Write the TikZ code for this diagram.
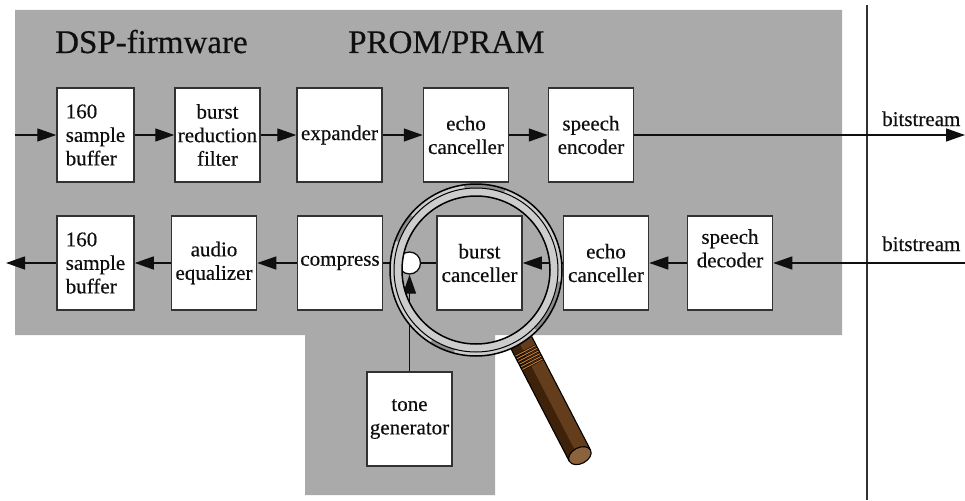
\documentclass[tikz,border=0pt]{standalone}
\usepackage{fontspec}
\setmainfont{Liberation Serif}[RawFeature={embolden=0.4}]
\usetikzlibrary{arrows.meta}
\definecolor{panel}{RGB}{170,170,170}
\definecolor{edge}{RGB}{50,50,50}
\definecolor{ink}{RGB}{15,15,15}
\definecolor{ringfill}{RGB}{205,205,205}
\definecolor{ringdark}{RGB}{140,140,140}
\definecolor{woodmid}{RGB}{100,62,28}
\definecolor{wooddark}{RGB}{62,34,10}
\definecolor{woodend}{RGB}{140,98,60}
\definecolor{woodridge}{RGB}{196,124,52}

\begin{document}
\begin{tikzpicture}[x=1pt,y=-1pt,
  blk/.style={draw=edge, line width=1.5pt, fill=white, minimum width=85pt,
    minimum height=94pt, inner sep=0pt, align=center,
    font=\fontsize{21}{23.5}\selectfont, text=ink},
  flow/.style={draw=ink, line width=1.3pt, -{Triangle[length=19pt,width=13pt]}},
  wire/.style={draw=ink, line width=1.3pt},
  title/.style={font=\fontsize{33}{36}\selectfont, text=ink, anchor=base west, inner sep=0pt},
  lbl/.style={font=\fontsize{21}{24}\selectfont, text=ink, anchor=base west, inner sep=0pt}]

\useasboundingbox (0,0) rectangle (965,500);
\clip (0,0) rectangle (965,500);
\fill[white] (0,0) rectangle (965,500);

% firmware panel with the tab below for the tone generator
\fill[panel] (15,10) -- (842,10) -- (842,335) -- (495,335) -- (495,495)
  -- (305,495) -- (305,335) -- (15,335) -- cycle;

% boundary between DSP and the channel side
\draw[edge, line width=1.3pt] (867,5) -- (867,500);

\node[title] (tdsp) at (55,53) {DSP-firmware};
\node[title] (tprom) at (348,53) {PROM/PRAM};

% transmit chain
\node[blk, minimum width=77pt, align=left] (b1) at (95.5,135) {160\\sample\\buffer};
\node[blk] (b2) at (217.5,135) {burst\\reduction\\filter};
\node[blk] (b3) at (339.5,135) {expander};
\node[blk] (b4) at (466,135) {echo\\canceller};
\node[blk] (b5) at (591,135) {speech\\encoder};

% receive chain
\node[blk, minimum width=77pt, align=left] (c1) at (95.5,263) {160\\sample\\buffer};
\node[blk] (c2) at (214,263) {audio\\equalizer};
\node[blk] (c3) at (340,263) {compress};
\node[draw=ink, line width=1.3pt, fill=white, circle, minimum size=22pt, inner sep=0pt] (mix) at (409.5,263) {};
\node[blk] (c4) at (479.5,263) {burst\\canceller};
\node[blk] (c5) at (606,263) {echo\\canceller};
\node[blk] (c6) at (730,263) {speech\\decoder\\[6pt]};
\node[blk] (tone) at (409.5,419) {tone\\generator};

\coordinate (inT) at (15,135);
\coordinate (outT) at (965,135);
\coordinate (inB) at (965,263);
\coordinate (outB) at (6,263);

\node[lbl] (bsT) at (882,126) {bitstream};
\node[lbl] (bsB) at (882,251) {bitstream};

% transmit connectors
\draw[flow] (inT) -- (b1);
\draw[flow] (b1) -- (b2);
\draw[flow] (b2) -- (b3);
\draw[flow] (b3) -- (b4);
\draw[flow] (b4) -- (b5);
\draw[flow] (b5) -- (outT);

% receive connectors
\draw[flow] (inB) -- (c6);
\draw[flow] (c6) -- (c5);
\draw[flow] (c5) -- (c4);
\draw[wire] (c4) -- (mix);
\draw[wire] (mix) -- (c3);
\draw[flow] (c3) -- (c2);
\draw[flow] (c2) -- (c1);
\draw[flow] (c1) -- (outB);
\draw[flow] (tone) -- (mix);

% magnifying glass: handle
\begin{scope}[shift={(521,342)}, rotate=-62.6]
  \fill[woodmid] (0,-12) rectangle (128,12);
  \fill[wooddark] (0,2) rectangle (128,12);
  \foreach \t in {10,13,16,19,22,25} {
    \draw[black, line width=2.2pt] (\t,-12) -- (\t,12);
    \draw[woodridge, line width=1pt] (\t,-12) -- (\t,12);
  }
  \draw[black, line width=1.1pt] (0,-12) -- (128,-12) (0,12) -- (128,12);
  \draw[black, line width=1.1pt, fill=woodend] (128,0) ellipse [x radius=8pt, y radius=12pt];
\end{scope}

% magnifying glass: rim
\fill[ringfill, even odd rule] (476,270) circle[radius=86pt] (476,270) circle[radius=74pt];
\draw[ringdark, line width=4pt] (476,270) ++(70:84pt) arc[start angle=70, end angle=98, radius=84pt];
\draw[ringdark, line width=4pt] (476,270) ++(-8:84pt) arc[start angle=-8, end angle=-45, radius=84pt];
\draw[ringdark, line width=4pt] (476,270) ++(140:84pt) arc[start angle=140, end angle=160, radius=84pt];
\draw[ringdark, line width=4pt] (476,270) ++(-105:84pt) arc[start angle=-105, end angle=-122, radius=84pt];
\draw[black, line width=1.5pt] (476,270) circle[radius=86pt];
\draw[black, line width=1pt] (476,270) circle[radius=82pt];
\draw[black, line width=1.5pt] (476,270) circle[radius=74pt];
\end{tikzpicture}
\end{document}
